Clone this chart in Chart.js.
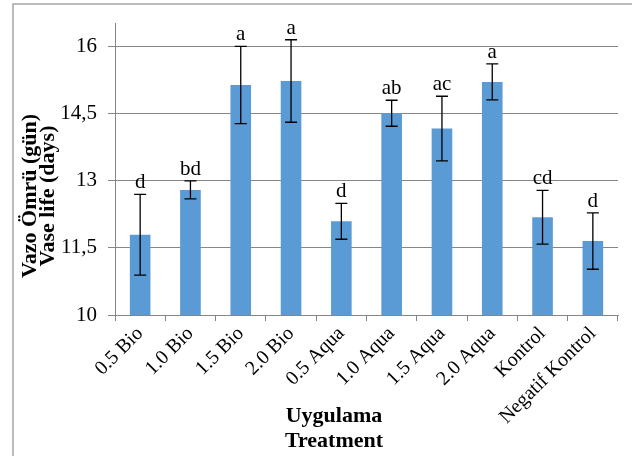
<!DOCTYPE html>
<html>
<head>
<meta charset="utf-8">
<script src="https://cdn.jsdelivr.net/npm/chart.js@4/dist/chart.umd.min.js"></script>
<style>
  html, body { margin: 0; padding: 0; background: #fff; }
  #wrap { width: 632px; height: 456px; position: relative; }
</style>
</head>
<body>
<div id="wrap"><canvas id="barChart"></canvas></div>
<script>
// data
const categories = ['0.5 Bio', '1.0 Bio', '1.5 Bio', '2.0 Bio', '0.5 Aqua', '1.0 Aqua', '1.5 Aqua', '2.0 Aqua', 'Kontrol', 'Negatif Kontrol'];
const vaseLife = [11.79, 12.79, 15.13, 15.22, 12.09, 14.50, 14.16, 15.20, 12.18, 11.65];
const errors = [0.90, 0.20, 0.86, 0.92, 0.40, 0.29, 0.72, 0.40, 0.60, 0.63];
const letters = ['d', 'bd', 'a', 'a', 'd', 'ab', 'ac', 'a', 'cd', 'd'];
const yTicks = [10, 11.5, 13, 14.5, 16];
const yTickLabels = ['10', '11,5', '13', '14,5', '16'];

const serif = '"Liberation Serif", "Times New Roman", serif';

// frame, error bars, letters and axis titles
const extras = {
  id: 'extras',
  beforeDraw(chart) {
    const c = chart.ctx;
    c.save();
    c.strokeStyle = '#a6a6a6';
    c.lineWidth = 1.5;
    c.beginPath();
    c.moveTo(13, 456);
    c.lineTo(13, 4);
    c.lineTo(632, 4);
    c.stroke();
    c.restore();
  },
  afterDatasetsDraw(chart) {
    const c = chart.ctx;
    const y = chart.scales.y;
    const meta = chart.getDatasetMeta(0);
    c.save();
    c.strokeStyle = '#000';
    c.lineWidth = 1.3;
    c.fillStyle = '#000';
    c.font = '21px ' + serif;
    c.textAlign = 'center';
    c.textBaseline = 'alphabetic';
    meta.data.forEach((bar, i) => {
      const top = y.getPixelForValue(vaseLife[i] + errors[i]);
      const bot = y.getPixelForValue(vaseLife[i] - errors[i]);
      c.beginPath();
      c.moveTo(bar.x, top); c.lineTo(bar.x, bot);
      c.moveTo(bar.x - 6, top); c.lineTo(bar.x + 6, top);
      c.moveTo(bar.x - 6, bot); c.lineTo(bar.x + 6, bot);
      c.stroke();
      c.fillText(letters[i], bar.x, top - 6);
    });
    c.restore();
  },
  afterDraw(chart) {
    const c = chart.ctx;
    c.save();
    c.fillStyle = '#000';
    c.font = 'bold 22px ' + serif;
    c.textAlign = 'center';
    c.textBaseline = 'middle';
    c.fillText('Uygulama', 334, 416);
    c.fillText('Treatment', 334, 441);
    c.translate(0, 196);
    c.rotate(-Math.PI / 2);
    c.fillText('Vazo Ömrü (gün)', 0, 30);
    c.fillText('Vase life (days)', 0, 48);
    c.restore();
  }
};

new Chart(document.getElementById('barChart'), {
  type: 'bar',
  data: {
    labels: categories,
    datasets: [{
      data: vaseLife,
      backgroundColor: '#5b9bd5',
      borderWidth: 0,
      barPercentage: 0.41,
      categoryPercentage: 1
    }]
  },
  options: {
    responsive: true,
    maintainAspectRatio: false,
    animation: false,
    layout: { padding: { left: 0, top: 21, right: 14, bottom: 0 } },
    plugins: { legend: { display: false }, tooltip: { enabled: false } },
    scales: {
      x: {
        afterFit(s) { s.height = 141; },
        grid: { drawOnChartArea: false, color: '#868686', tickLength: 6, offset: true },
        border: { color: '#868686', width: 1 },
        ticks: {
          color: '#000',
          font: { family: serif, size: 20 },
          minRotation: 45,
          maxRotation: 45,
          padding: 1,
          autoSkip: false
        }
      },
      y: {
        min: 10,
        max: 16.5,
        afterFit(s) { s.width = 115; },
        afterBuildTicks(s) { s.ticks = yTicks.map(v => ({ value: v })); },
        grid: { color: '#868686', tickLength: 7 },
        border: { color: '#868686', width: 1 },
        ticks: {
          color: '#000',
          font: { family: serif, size: 21 },
          padding: 11,
          callback: (v) => yTickLabels[yTicks.indexOf(v)]
        }
      }
    }
  },
  plugins: [extras]
});
</script>
</body>
</html>
